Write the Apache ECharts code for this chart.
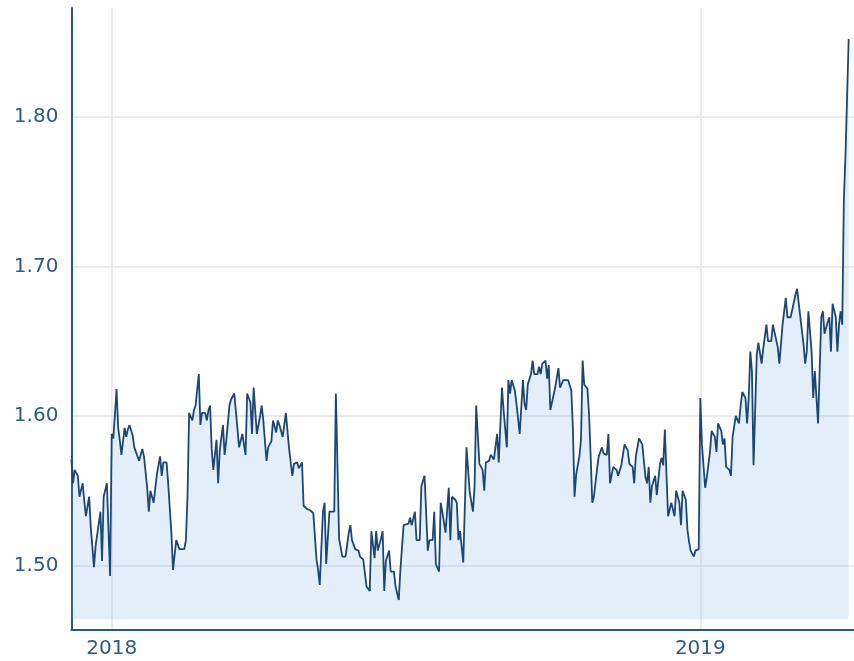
<!DOCTYPE html>
<html>
<head>
<meta charset="utf-8">
<script src="https://cdn.jsdelivr.net/npm/echarts@6/dist/echarts.min.js"></script>
<style>
  html, body { margin: 0; padding: 0; background: #fff; }
  #chart { width: 854px; height: 661px; }
</style>
</head>
<body>
<div id="chart"></div>
<script>
// one point every day or two
const dates = [
  '2017-12-07', '2017-12-08', '2017-12-09', '2017-12-11', '2017-12-12', '2017-12-14', '2017-12-15', '2017-12-16',
  '2017-12-18', '2017-12-19', '2017-12-21', '2017-12-22', '2017-12-25', '2017-12-26', '2017-12-27', '2017-12-29',
  '2017-12-30', '2017-12-31',
  '2018-01-01', '2018-01-02', '2018-01-04', '2018-01-05', '2018-01-06', '2018-01-07', '2018-01-09', '2018-01-10',
  '2018-01-11', '2018-01-12', '2018-01-14', '2018-01-15', '2018-01-16', '2018-01-18', '2018-01-19', '2018-01-20',
  '2018-01-21', '2018-01-23', '2018-01-24', '2018-01-25', '2018-01-27', '2018-01-29', '2018-01-31',
  '2018-02-01', '2018-02-02', '2018-02-04', '2018-02-05', '2018-02-07', '2018-02-08', '2018-02-09', '2018-02-10',
  '2018-02-12', '2018-02-15', '2018-02-16', '2018-02-17', '2018-02-18', '2018-02-20', '2018-02-21', '2018-02-22',
  '2018-02-24', '2018-02-25', '2018-02-26', '2018-02-28',
  '2018-03-01', '2018-03-02', '2018-03-03', '2018-03-04', '2018-03-05', '2018-03-07', '2018-03-08', '2018-03-09',
  '2018-03-11', '2018-03-12', '2018-03-13', '2018-03-15', '2018-03-16', '2018-03-18', '2018-03-19', '2018-03-21',
  '2018-03-22', '2018-03-23', '2018-03-25', '2018-03-26', '2018-03-28', '2018-03-29', '2018-03-30',
  '2018-04-01', '2018-04-03', '2018-04-04', '2018-04-05', '2018-04-07', '2018-04-08', '2018-04-10', '2018-04-11',
  '2018-04-13', '2018-04-14', '2018-04-15', '2018-04-17', '2018-04-19', '2018-04-21', '2018-04-23', '2018-04-24',
  '2018-04-26', '2018-04-27', '2018-04-29', '2018-04-30',
  '2018-05-02', '2018-05-04', '2018-05-06', '2018-05-08', '2018-05-09', '2018-05-10', '2018-05-12', '2018-05-13',
  '2018-05-14', '2018-05-16', '2018-05-19', '2018-05-20', '2018-05-22', '2018-05-23', '2018-05-24', '2018-05-26',
  '2018-05-28', '2018-05-29', '2018-05-30',
  '2018-06-01', '2018-06-03', '2018-06-04', '2018-06-06', '2018-06-07', '2018-06-08', '2018-06-10', '2018-06-11',
  '2018-06-13', '2018-06-14', '2018-06-15', '2018-06-17', '2018-06-18', '2018-06-19', '2018-06-20', '2018-06-22',
  '2018-06-23', '2018-06-25', '2018-06-26', '2018-06-28', '2018-06-29',
  '2018-07-01', '2018-07-02', '2018-07-04', '2018-07-05', '2018-07-06', '2018-07-08', '2018-07-09', '2018-07-11',
  '2018-07-12', '2018-07-14', '2018-07-16', '2018-07-17', '2018-07-19', '2018-07-20', '2018-07-21', '2018-07-23',
  '2018-07-24', '2018-07-25', '2018-07-27', '2018-07-29', '2018-07-30', '2018-07-31',
  '2018-08-02', '2018-08-03', '2018-08-04', '2018-08-05', '2018-08-07', '2018-08-09', '2018-08-10', '2018-08-11',
  '2018-08-13', '2018-08-14', '2018-08-15', '2018-08-17', '2018-08-18', '2018-08-19', '2018-08-20', '2018-08-21',
  '2018-08-23', '2018-08-24', '2018-08-26', '2018-08-28', '2018-08-29', '2018-08-30', '2018-08-31',
  '2018-09-01', '2018-09-03', '2018-09-04', '2018-09-05', '2018-09-06', '2018-09-08', '2018-09-09', '2018-09-11',
  '2018-09-13', '2018-09-14', '2018-09-15', '2018-09-16', '2018-09-18', '2018-09-19', '2018-09-20', '2018-09-22',
  '2018-09-23', '2018-09-24', '2018-09-25', '2018-09-27', '2018-09-28', '2018-09-29', '2018-09-30',
  '2018-10-01', '2018-10-03', '2018-10-05', '2018-10-06', '2018-10-07', '2018-10-08', '2018-10-11', '2018-10-12',
  '2018-10-13', '2018-10-14', '2018-10-15', '2018-10-16', '2018-10-18', '2018-10-19', '2018-10-20', '2018-10-21',
  '2018-10-23', '2018-10-24', '2018-10-25', '2018-10-26', '2018-10-27', '2018-10-29', '2018-10-30',
  '2018-11-01', '2018-11-02', '2018-11-04', '2018-11-05', '2018-11-06', '2018-11-08', '2018-11-09', '2018-11-10',
  '2018-11-11', '2018-11-13', '2018-11-14', '2018-11-15', '2018-11-17', '2018-11-18', '2018-11-20', '2018-11-21',
  '2018-11-22', '2018-11-24', '2018-11-25', '2018-11-26', '2018-11-28', '2018-11-29', '2018-11-30',
  '2018-12-01', '2018-12-02', '2018-12-04', '2018-12-05', '2018-12-07', '2018-12-08', '2018-12-09', '2018-12-10',
  '2018-12-11', '2018-12-12', '2018-12-14', '2018-12-15', '2018-12-16', '2018-12-17', '2018-12-19', '2018-12-20',
  '2018-12-21', '2018-12-23', '2018-12-24', '2018-12-25', '2018-12-26', '2018-12-28', '2018-12-29', '2018-12-31',
  '2019-01-01', '2019-01-02', '2019-01-04', '2019-01-05', '2019-01-07', '2019-01-08', '2019-01-10', '2019-01-11',
  '2019-01-12', '2019-01-14', '2019-01-15', '2019-01-16', '2019-01-17', '2019-01-19', '2019-01-20', '2019-01-21',
  '2019-01-23', '2019-01-24', '2019-01-25', '2019-01-26', '2019-01-27', '2019-01-29', '2019-01-30', '2019-01-31',
  '2019-02-01', '2019-02-02', '2019-02-03', '2019-02-05', '2019-02-06', '2019-02-08', '2019-02-09', '2019-02-11',
  '2019-02-12', '2019-02-14', '2019-02-15', '2019-02-16', '2019-02-18', '2019-02-19', '2019-02-20', '2019-02-21',
  '2019-02-23', '2019-02-24', '2019-02-26', '2019-02-27',
  '2019-03-01', '2019-03-02', '2019-03-03', '2019-03-04', '2019-03-06', '2019-03-07', '2019-03-08', '2019-03-09',
  '2019-03-11', '2019-03-12', '2019-03-13', '2019-03-14', '2019-03-15', '2019-03-17', '2019-03-18', '2019-03-19',
  '2019-03-21', '2019-03-22', '2019-03-23', '2019-03-24', '2019-03-26', '2019-03-27', '2019-03-28', '2019-03-29',
  '2019-03-30', '2019-03-31', '2019-04-01', '2019-04-03'
]
const values = [
  1.571, 1.555, 1.564, 1.560, 1.546, 1.555, 1.543, 1.533,
  1.546, 1.526, 1.499, 1.513, 1.536, 1.503, 1.546, 1.555,
  1.524, 1.493,
  1.588, 1.585, 1.618, 1.592, 1.584, 1.574, 1.592, 1.586,
  1.591, 1.594, 1.587, 1.579, 1.578, 1.570, 1.570, 1.578,
  1.573, 1.552, 1.536, 1.550, 1.542, 1.561, 1.573,
  1.560, 1.569, 1.569, 1.555, 1.522, 1.497, 1.497, 1.517,
  1.511, 1.511, 1.517, 1.546, 1.602, 1.597, 1.604, 1.607,
  1.628, 1.594, 1.602, 1.602,
  1.597, 1.604, 1.607, 1.578, 1.564, 1.584, 1.555, 1.577,
  1.594, 1.574, 1.583, 1.607, 1.611, 1.615, 1.615, 1.579,
  1.579, 1.588, 1.574, 1.615, 1.609, 1.588, 1.619,
  1.588, 1.600, 1.607, 1.597, 1.570, 1.579, 1.583, 1.597,
  1.589, 1.597, 1.594, 1.586, 1.602, 1.578, 1.560, 1.568,
  1.569, 1.565, 1.569, 1.540,
  1.538, 1.537, 1.535, 1.504, 1.497, 1.487, 1.536, 1.542,
  1.501, 1.536, 1.536, 1.615, 1.518, 1.517, 1.506, 1.506,
  1.522, 1.527, 1.517,
  1.511, 1.510, 1.506, 1.504, 1.495, 1.486, 1.483, 1.523,
  1.505, 1.523, 1.510, 1.518, 1.523, 1.483, 1.503, 1.510,
  1.496, 1.496, 1.486, 1.477, 1.497,
  1.527, 1.527, 1.528, 1.532, 1.527, 1.536, 1.517, 1.517,
  1.553, 1.560, 1.510, 1.517, 1.517, 1.536, 1.501, 1.496,
  1.542, 1.536, 1.522, 1.552, 1.517, 1.546,
  1.544, 1.542, 1.517, 1.523, 1.502, 1.579, 1.564, 1.549,
  1.536, 1.553, 1.607, 1.568, 1.566, 1.564, 1.550, 1.569,
  1.570, 1.574, 1.571, 1.588, 1.569, 1.569, 1.619,
  1.604, 1.579, 1.624, 1.615, 1.624, 1.617, 1.608, 1.588,
  1.624, 1.608, 1.604, 1.621, 1.628, 1.637, 1.628, 1.628,
  1.633, 1.628, 1.635, 1.637, 1.625, 1.634, 1.604,
  1.604, 1.619, 1.632, 1.619, 1.619, 1.624, 1.624, 1.624,
  1.617, 1.591, 1.546, 1.561, 1.573, 1.584, 1.637, 1.621,
  1.618, 1.601, 1.573, 1.542, 1.546, 1.565, 1.573,
  1.579, 1.575, 1.574, 1.588, 1.555, 1.566, 1.566, 1.564,
  1.560, 1.567, 1.567, 1.581, 1.577, 1.568, 1.566, 1.555,
  1.573, 1.585, 1.584, 1.581, 1.559, 1.555, 1.566,
  1.542, 1.553, 1.560, 1.547, 1.568, 1.572, 1.567, 1.591,
  1.561, 1.533, 1.542, 1.542, 1.533, 1.550, 1.542, 1.527,
  1.550, 1.544, 1.524, 1.516, 1.510, 1.506, 1.510, 1.511,
  1.612, 1.581, 1.552, 1.559, 1.576, 1.590, 1.586, 1.576,
  1.595, 1.590, 1.581, 1.585, 1.566, 1.564, 1.560, 1.586,
  1.600, 1.600, 1.595, 1.607, 1.616, 1.612, 1.595, 1.612,
  1.643, 1.630, 1.567, 1.641, 1.649, 1.635, 1.645, 1.661,
  1.650, 1.650, 1.661, 1.661, 1.646, 1.635, 1.635, 1.661,
  1.679, 1.666, 1.666, 1.666,
  1.681, 1.685, 1.685, 1.666, 1.648, 1.635, 1.643, 1.670,
  1.643, 1.612, 1.630, 1.630, 1.595, 1.666, 1.670, 1.655,
  1.663, 1.666, 1.643, 1.675, 1.666, 1.643, 1.661, 1.670,
  1.661, 1.744, 1.774, 1.852
]

const axisColor = '#2b5784'
const labelColor = '#2f5a87'

const chart = echarts.init(document.getElementById('chart'))
chart.setOption({
  animation: false,
  grid: {
    left: 71.4,
    right: 0,
    top: 8,
    bottom: 31.7,
    containLabel: false
  },
  xAxis: {
    type: 'time',
    min: '2017-12-07',
    max: '2019-04-06 07:00',
    minInterval: 365 * 24 * 3600 * 1000,
    axisLine: { show: true, lineStyle: { color: axisColor, width: 2 } },
    axisTick: { show: false },
    axisLabel: {
      color: labelColor,
      fontFamily: 'DejaVu Sans',
      fontSize: 20,
      margin: 9,
      showMinLabel: false,
      showMaxLabel: false,
      formatter: (v) => {
        const d = new Date(v)
        return (d.getMonth() === 0 && d.getDate() === 1) ? String(d.getFullYear()) : ''
      }
    },
    splitLine: {
      show: true,
      showMinLine: false,
      showMaxLine: false,
      lineStyle: { color: '#e4e4e4', width: 1.5 }
    }
  },
  yAxis: {
    type: 'value',
    min: 1.4574,
    max: 1.8727,
    splitNumber: 4,
    axisLine: { show: true, lineStyle: { color: axisColor, width: 2 } },
    axisTick: { show: false },
    axisLabel: {
      color: labelColor,
      fontFamily: 'DejaVu Sans',
      fontSize: 20,
      margin: 13,
      showMinLabel: false,
      showMaxLabel: false,
      formatter: (v) => {
        return Math.abs(v * 10 - Math.round(v * 10)) < 1e-6 ? v.toFixed(2) : ''
      }
    },
    splitLine: {
      show: true,
      showMinLine: false,
      showMaxLine: false,
      lineStyle: { color: '#e4e4e4', width: 1.5 }
    }
  },
  series: [
    {
      type: 'line',
      data: dates.map((d, i) => [d, values[i]]),
      showSymbol: false,
      smooth: false,
      lineStyle: { color: '#1c4775', width: 1.8 },
      areaStyle: { color: 'rgba(110, 170, 230, 0.2)', opacity: 1, origin: 1.4642 }
    }
  ]
})
</script>
</body>
</html>
